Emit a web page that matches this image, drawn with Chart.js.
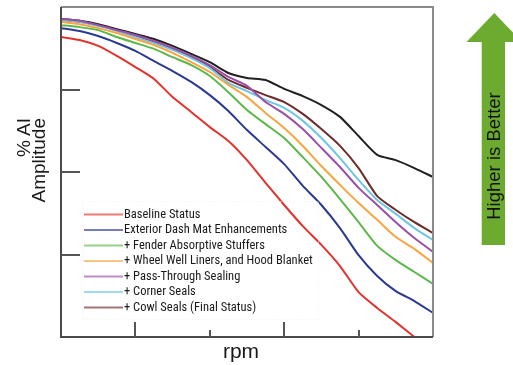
<!DOCTYPE html>
<html lang="en">
<head>
<meta charset="UTF-8">
<title>% AI Amplitude vs rpm</title>
<script src="https://cdn.jsdelivr.net/npm/chart.js"></script>
<style>
    html, body { margin: 0; padding: 0; background: #fff; }
    body { width: 513px; height: 365px; position: relative; overflow: hidden; font-family: "Liberation Sans", Arial, sans-serif; color: #1a1a1a; }
    #chart { position: absolute; left: 0; top: 0; }
    .ytitle { position: absolute; left: 16px; top: 238px; width: 120px; height: 30px; transform: rotate(-90deg); transform-origin: left top; text-align: right; font-size: 19px; line-height: 15px; white-space: nowrap; }
    .xtitle { position: absolute; left: 201px; top: 340px; width: 80px; text-align: center; font-size: 21px; line-height: 21px; }
    #arrow { position: absolute; left: 0; top: 0; }
    .arrowtext { position: absolute; left: 484px; top: 236px; width: 160px; height: 20px; transform: rotate(-90deg); transform-origin: left top; text-align: center; font-size: 18.5px; line-height: 20px; white-space: nowrap; color: #111; }
</style>
</head>
<body>
    <canvas id="chart" width="513" height="365"></canvas>

    <!-- axis titles -->
    <div class="ytitle">% AI<br>Amplitude</div>
    <div class="xtitle">rpm</div>

    <!-- Higher is Better arrow -->
    <svg id="arrow" width="513" height="365">
        <polygon points="494.3,13 466.5,42 481.7,42 481.7,245 505,245 505,42 522,42" fill="#6cab2f"/>
    </svg>
    <div class="arrowtext">Higher is Better</div>

<script>
// rpm position across the plot (0 = left edge, 100 = right edge)
const rpm = [0, 5, 10, 15, 20, 25, 30, 35, 40, 45, 50, 55, 60, 65, 70, 75, 80, 85, 90, 95, 100];

// % AI amplitude
const baselineStatus     = [90.9, 90.0, 88.2, 85.2, 81.8, 78.2, 72.7, 68.2, 63.6, 59.4, 53.6, 46.7, 40.0, 33.6, 27.9, 21.5, 13.6, 8.8, 4.5, 0, null];
const exteriorDashMat    = [93.6, 92.7, 91.2, 89.1, 86.7, 83.6, 80.6, 77.3, 73.3, 68.5, 62.7, 57.6, 52.4, 45.8, 40.0, 33.0, 24.8, 18.5, 13.9, 10.9, 7.3];
const fenderStuffers     = [94.5, 93.9, 93.0, 90.9, 89.1, 87.3, 84.8, 82.4, 79.1, 74.2, 68.8, 64.5, 60.3, 54.5, 48.5, 41.8, 34.8, 27.6, 23.3, 19.7, 16.1];
const wheelWellLiners    = [95.5, 94.8, 93.6, 92.1, 90.3, 88.5, 86.1, 83.3, 80.3, 76.4, 72.7, 67.9, 63.3, 57.9, 51.8, 46.1, 40.6, 35.5, 30.3, 26.7, 22.4];
const passThroughSealing = [96.4, 95.8, 94.5, 93.0, 91.5, 89.7, 87.6, 85.2, 82.4, 78.8, 76.1, 71.2, 67.6, 63.0, 57.3, 51.5, 45.2, 40.0, 34.8, 30.0, 25.8];
const cornerSeals        = [96.1, 95.5, 94.2, 92.7, 90.9, 89.1, 87.0, 84.5, 81.5, 77.0, 74.5, 71.8, 69.4, 65.5, 60.3, 54.2, 47.6, 41.5, 37.3, 33.0, 29.4];
const cowlSeals          = [96.1, 95.5, 94.5, 93.0, 91.2, 89.4, 87.3, 84.8, 81.8, 77.9, 75.5, 73.3, 71.2, 67.6, 63.0, 57.9, 51.2, 42.7, 38.5, 34.8, 31.5];
const topReference       = [96.4, 95.8, 94.8, 93.3, 91.8, 90.3, 88.2, 85.8, 83.3, 80.0, 78.5, 77.9, 75.2, 73.0, 70.3, 66.7, 60.9, 55.2, 53.6, 51.2, 48.5];

const seriesLabels = ['Baseline Status', 'Exterior Dash Mat Enhancements', '+ Fender Absorptive Stuffers',
    '+ Wheel Well Liners, and Hood Blanket', '+ Pass-Through Sealing', '+ Corner Seals', '+ Cowl Seals (Final Status)', ''];
const seriesColors = ['#e2322b', '#2b3990', '#5cb84a', '#f7a541', '#9b4fa8', '#6ec6e0', '#6e2b2b', '#231f20'];
const seriesValues = [baselineStatus, exteriorDashMat, fenderStuffers, wheelWellLiners, passThroughSealing, cornerSeals, cowlSeals, topReference];

// inner tick marks
const xTickValues = [20, 40, 60, 80];
const yTickValues = [25, 50, 75];

function toPoints(values) {
    return rpm.map((x, i) => ({ x: x, y: values[i] }));
}

const datasets = seriesValues.map((values, i) => ({
    label: seriesLabels[i],
    data: toPoints(values),
    borderColor: seriesColors[i],
    borderWidth: 2,
    pointRadius: 0,
    tension: 0.2,
    fill: false
}));

// plot frame and the short inward ticks
const framePlugin = {
    id: 'frame',
    afterDatasetsDraw(chart) {
        const { ctx, chartArea: a, scales } = chart;
        ctx.save();
        ctx.lineWidth = 2;
        ctx.strokeStyle = '#8a8a8a';
        ctx.beginPath();
        ctx.moveTo(a.left, a.top);
        ctx.lineTo(a.right, a.top);
        ctx.lineTo(a.right, a.bottom);
        ctx.stroke();
        ctx.strokeStyle = '#4a4a4a';
        ctx.beginPath();
        ctx.moveTo(a.left, a.top);
        ctx.lineTo(a.left, a.bottom);
        ctx.lineTo(a.right, a.bottom);
        ctx.stroke();

        ctx.strokeStyle = '#555';
        yTickValues.forEach(v => {
            const y = Math.round(scales.y.getPixelForValue(v));
            ctx.beginPath();
            ctx.moveTo(a.left, y);
            ctx.lineTo(a.left + 19, y);
            ctx.stroke();
        });
        xTickValues.forEach((v, i) => {
            const x = Math.round(scales.x.getPixelForValue(v));
            const len = i % 2 === 0 ? 15 : 7;
            ctx.beginPath();
            ctx.moveTo(x, a.bottom);
            ctx.lineTo(x, a.bottom - len);
            ctx.stroke();
        });
        ctx.restore();
    }
};

// legend drawn inside the plot, lower left
const legendPlugin = {
    id: 'innerLegend',
    afterDatasetsDraw(chart) {
        const ctx = chart.ctx;
        ctx.save();
        ctx.strokeStyle = '#f3f3f3';
        ctx.lineWidth = 1;
        ctx.setLineDash([1, 2]);
        ctx.strokeRect(82.5, 201.5, 236, 118);
        ctx.setLineDash([]);
        ctx.font = '12.5px "Liberation Sans Narrow", "Roboto Condensed", "DejaVu Sans Condensed", sans-serif';
        ctx.textBaseline = 'middle';
        ctx.fillStyle = '#1a1a1a';
        let row = 0;
        chart.data.datasets.forEach(ds => {
            if (!ds.label) return;
            const y = 214.5 + row * 15.5;
            ctx.globalAlpha = 0.65;
            ctx.strokeStyle = ds.borderColor;
            ctx.lineWidth = 2;
            ctx.beginPath();
            ctx.moveTo(84, y);
            ctx.lineTo(123, y);
            ctx.stroke();
            ctx.globalAlpha = 1;
            ctx.fillText(ds.label, 124, y);
            row++;
        });
        ctx.restore();
    }
};

new Chart(document.getElementById('chart'), {
    type: 'line',
    data: { datasets: datasets },
    options: {
        responsive: false,
        animation: false,
        devicePixelRatio: 1,
        layout: { padding: { top: 7, right: 80, left: 0, bottom: 0 } },
        plugins: {
            legend: { display: false },
            tooltip: { enabled: false }
        },
        scales: {
            x: {
                type: 'linear',
                min: 0,
                max: 100,
                ticks: { display: false },
                grid: { display: false },
                border: { display: false },
                afterFit: s => { s.height = 28; }
            },
            y: {
                min: 0,
                max: 100,
                ticks: { display: false },
                grid: { display: false },
                border: { display: false },
                afterFit: s => { s.width = 61; }
            }
        }
    },
    plugins: [framePlugin, legendPlugin]
});
</script>
</body>
</html>
